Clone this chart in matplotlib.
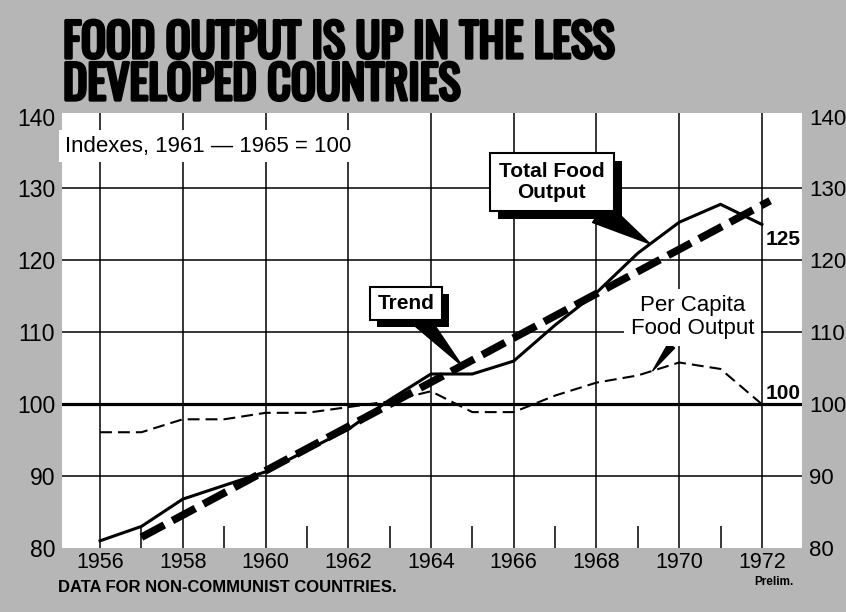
import matplotlib
matplotlib.use("Agg")
import matplotlib.pyplot as plt
from matplotlib import patheffects as pe
from matplotlib import font_manager as fm
import numpy as np

# ---------------- data ----------------
years = list(range(1956, 1973))
total_food = [81.0, 83.0, 86.8, 88.7, 90.6, 93.6, 96.5, 100.6, 104.2, 104.2,
              106.0, 111.0, 115.5, 121.0, 125.3, 127.8, 125.0]
per_capita = [96.1, 96.1, 97.9, 97.9, 98.8, 98.8, 99.6, 100.4, 101.8, 98.9,
              98.9, 101.2, 103.0, 104.0, 105.8, 104.9, 100.0]
trend_years = [1957, 1972.2]
trend_values = [81.5, 128.3]
y_ticks = [80, 90, 100, 110, 120, 130, 140]
year_labels = [1956, 1958, 1960, 1962, 1964, 1966, 1968, 1970, 1972]
odd_years = [1957, 1959, 1961, 1963, 1965, 1967, 1969, 1971]
grid_values = [90, 110, 120, 130]
title_lines = ["FOOD OUTPUT IS UP IN THE LESS", "DEVELOPED COUNTRIES"]

names = {f.name for f in fm.fontManager.ttflist}
def pick(*cands):
    for c in cands:
        if c in names:
            return c
    return "DejaVu Sans"

BODY = pick("Liberation Sans", "Arial", "DejaVu Sans")
TITLE = pick("Oswald", "Anton", "Bebas Neue", "Barlow Condensed", "Archivo Narrow")

GRAY = "#b6b6b6"
fig = plt.figure(figsize=(8.46, 6.12), dpi=100, facecolor=GRAY)
W, H = 846.0, 612.0
ax = fig.add_axes([62 / W, 1 - 548 / H, (802 - 62) / W, (548 - 113) / H])
ax.set_facecolor("white")
ax.set_xlim(1955.08, 1972.97)
ax.set_ylim(80, 140.5)
for s in ax.spines.values():
    s.set_visible(False)

# grid
for yr in year_labels:
    ax.axvline(yr, color="black", lw=1.1, zorder=1)
for v in grid_values:
    ax.axhline(v, color="black", lw=1.1, zorder=1)
ax.axhline(100, color="black", lw=2.3, zorder=1)
ax.vlines(odd_years, 80, 83, color="black", lw=1.1, zorder=1)

# series
ax.plot(years, per_capita, color="black", lw=1.5, linestyle=(0, (5.7, 2.9)),
        dash_capstyle="butt", zorder=3)
ax.plot(trend_years, trend_values, color="black", lw=5.5, linestyle=(0, (3.4, 1.2)),
        dash_capstyle="butt", zorder=4)
ax.plot(years, total_food, color="black", lw=2.2, zorder=5, solid_joinstyle="round")

# ticks
ax.set_yticks(y_ticks)
ax.set_yticklabels([str(v) for v in y_ticks], fontsize=16.5, family=BODY)
ax.tick_params(axis="y", length=0, pad=5)
ax.set_xticks(year_labels)
ax.set_xticklabels([str(v) for v in year_labels], fontsize=15.5, family=BODY)
ax.tick_params(axis="x", length=0, pad=3)
ax2 = ax.twinx()
ax2.set_ylim(ax.get_ylim())
for s in ax2.spines.values():
    s.set_visible(False)
ax2.set_yticks(y_ticks)
ax2.set_yticklabels([str(v) for v in y_ticks], fontsize=16, family=BODY)
ax2.tick_params(axis="y", length=0, pad=5)

# texts
ax.text(1955.15, 135.9, "Indexes, 1961 \u2014 1965 = 100", fontsize=16, family=BODY,
        ha="left", va="center", zorder=6,
        bbox=dict(boxstyle="square,pad=0.25", fc="white", ec="none"))

def callout(txt, xy_text, xy_tip, width, bold=True, boxed=True, fs=15, pad=0.35, sh=5):
    bb = dict(boxstyle="square,pad=%s" % pad, fc="white", ec="black", lw=1.5) if boxed \
        else dict(boxstyle="square,pad=0.3", fc="white", ec="none")
    t = ax.annotate(txt, xy=xy_tip, xytext=xy_text, textcoords="data",
                    fontsize=fs, family=BODY, fontweight="bold" if bold else "normal",
                    ha="center", va="center", zorder=8, linespacing=1.1,
                    bbox=bb,
                    arrowprops=dict(arrowstyle="wedge,tail_width=%s" % width,
                                    fc="black", ec="black", lw=1, shrinkA=0, shrinkB=0))
    if boxed:
        t.get_bbox_patch().set_path_effects([
            pe.SimplePatchShadow(offset=(sh, -sh), shadow_rgbFace="black", alpha=1.0),
            pe.Normal()])
    return t

tip_total_x = 1969.3
callout("Total Food\nOutput", (1966.92, 130.9),
        (tip_total_x, float(np.interp(tip_total_x, years, total_food))), 1.2, pad=0.45, sh=6)
tip_trend_x = 1964.75
callout("Trend", (1963.4, 114.0),
        (tip_trend_x, float(np.interp(tip_trend_x, trend_years, trend_values))), 0.8)
tip_pc_x = 1969.36
callout("Per Capita\nFood Output", (1970.33, 112.1),
        (tip_pc_x, float(np.interp(tip_pc_x, years, per_capita))), 0.35, bold=False,
        boxed=False, fs=16)

ax.annotate(str(int(total_food[-1])), xy=(years[-1], total_food[-1]), xytext=(3, -4),
            textcoords="offset points", fontsize=15, family=BODY, fontweight="bold",
            ha="left", va="top", zorder=7)
ax.annotate(str(int(per_capita[-1])), xy=(years[-1], per_capita[-1]), xytext=(3, 1),
            textcoords="offset points", fontsize=15, family=BODY, fontweight="bold",
            ha="left", va="bottom", zorder=7)

# title: fit first line to the reference width, heavy stroke for a black weight
heavy = [pe.withStroke(linewidth=2.4, foreground="black")]
t1 = fig.text(63 / W, 1 - 58 / H, title_lines[0], fontsize=30, family=TITLE,
              fontweight="bold", ha="left", va="baseline", path_effects=heavy)
t2 = fig.text(63 / W, 1 - 100 / H, title_lines[1], fontsize=30, family=TITLE,
              fontweight="bold", ha="left", va="baseline", path_effects=heavy)
fig.canvas.draw()
w1 = t1.get_window_extent().width
fs = 30 * 552.0 / w1
t1.set_fontsize(fs)
t2.set_fontsize(fs)

fig.text(58 / W, 1 - 592 / H, "DATA FOR NON-COMMUNIST COUNTRIES.", fontsize=12,
         family=BODY, fontweight="bold", ha="left", va="baseline")
fig.text(774 / W, 1 - 585 / H, "Prelim.", fontsize=8.5, family=BODY,
         fontweight="bold", ha="center", va="baseline")

fig.savefig("out.png", dpi=100, facecolor=GRAY)
